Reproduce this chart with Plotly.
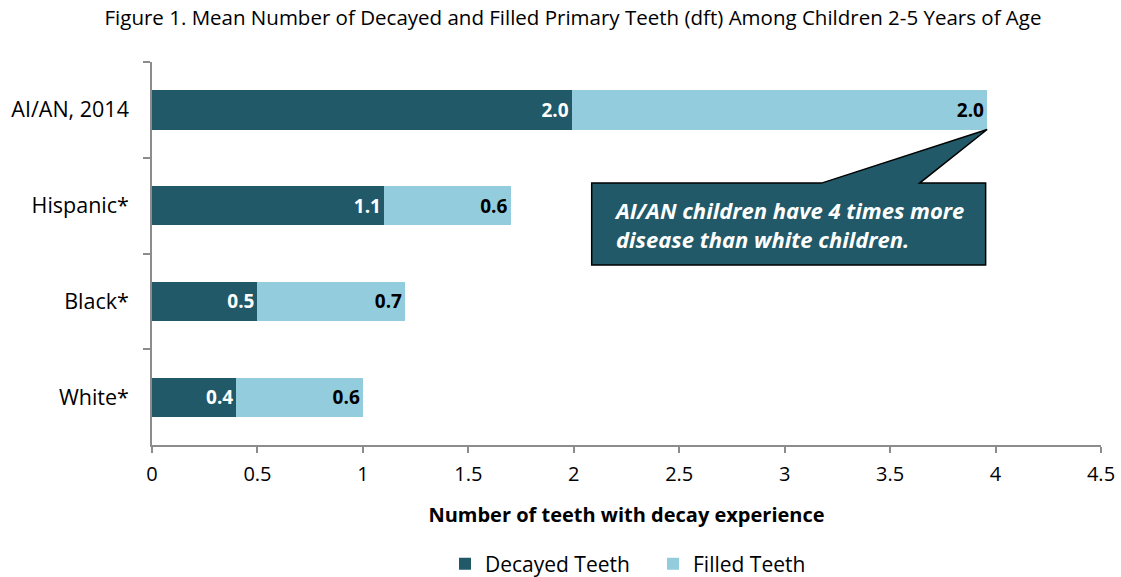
import plotly.graph_objects as go

# Mean dft among children 2-5 years of age
groups = ["AI/AN, 2014", "Hispanic*", "Black*", "White*"]
decayed = [1.99, 1.10, 0.50, 0.40]
filled = [1.97, 0.60, 0.70, 0.60]

x_ticks = [0, 0.5, 1, 1.5, 2, 2.5, 3, 3.5, 4, 4.5]

DARK = "#215968"
LIGHT = "#93CDDD"
AXIS = "#8C8C8C"
FONT = "Open Sans"
BAR_W = 0.41

fig = go.Figure()
fig.add_trace(go.Bar(
    y=groups, x=decayed, orientation="h", name="Decayed Teeth", legend="legend",
    marker=dict(color=DARK, line=dict(width=0)), width=BAR_W,
    texttemplate="<b>%{x:.1f}</b>", textposition="inside", insidetextanchor="end",
    textfont=dict(family=FONT, size=19, color="white"),
))
fig.add_trace(go.Bar(
    y=groups, x=filled, orientation="h", name="Filled Teeth", legend="legend2",
    marker=dict(color=LIGHT, line=dict(width=0)), width=BAR_W,
    texttemplate="<b>%{x:.1f}</b>", textposition="inside", insidetextanchor="end",
    textfont=dict(family=FONT, size=19, color="black"),
))

# Callout pointing at the end of the AI/AN bar
tip_x = decayed[0] + filled[0]
tip_y = BAR_W / 2
box_x0, box_x1 = 2.085, 3.953
box_y0, box_y1 = 0.765, 1.62
base_a, base_b = 3.175, 3.64
path = (f"M {box_x0} {box_y0} L {base_a} {box_y0} L {tip_x} {tip_y} "
        f"L {base_b} {box_y0} L {box_x1} {box_y0} L {box_x1} {box_y1} "
        f"L {box_x0} {box_y1} Z")
fig.add_shape(type="path", path=path, xref="x", yref="y",
              fillcolor=DARK, line=dict(color="black", width=1.5), layer="above")
fig.add_annotation(
    x=box_x0 + 0.095, y=(box_y0 + box_y1) / 2, xref="x", yref="y",
    xanchor="left", yanchor="middle", align="left", showarrow=False,
    text="<b><i>AI/AN children have 4 times more<br>disease than white children.</i></b>",
    font=dict(family=FONT, size=22, color="white"),
)

legend_style = dict(orientation="h", xanchor="left", xref="container",
                    y=1 - 564 / 577, yanchor="middle", yref="container",
                    font=dict(family=FONT, size=21), itemwidth=30)

fig.update_layout(
    width=1121, height=577,
    barmode="stack",
    plot_bgcolor="white", paper_bgcolor="white",
    margin=dict(l=152, r=20, t=62, b=132, autoexpand=False),
    font=dict(family=FONT, size=20, color="black"),
    title=dict(text="Figure 1. Mean Number of Decayed and Filled Primary Teeth (dft) Among Children 2-5 Years of Age",
               x=573 / 1121, xanchor="center", y=1 - 18 / 577, yanchor="middle",
               font=dict(family=FONT, size=20.5, color="black")),
    showlegend=True,
    legend=dict(x=445 / 1121, **legend_style),
    legend2=dict(x=653 / 1121, **legend_style),
    xaxis=dict(range=[0, 4.5], tickvals=x_ticks, ticktext=[f"{v:g}" for v in x_ticks],
               showgrid=False, zeroline=False, showline=True, linecolor=AXIS, linewidth=1.5,
               ticks="outside", ticklen=6, tickcolor=AXIS, tickwidth=1.5,
               tickfont=dict(family=FONT, size=20), automargin=False, ticklabelstandoff=4,
               title=dict(text="<b>Number of teeth with decay experience</b>", standoff=22,
                          font=dict(family=FONT, size=20))),
    yaxis=dict(categoryorder="array", categoryarray=groups, autorange="reversed",
               showgrid=False, zeroline=False, showline=True, linecolor=AXIS, linewidth=1.5,
               ticks="outside", ticklen=7, tickcolor=AXIS, tickwidth=1.5, tickson="boundaries",
               tickfont=dict(family=FONT, size=21.5), ticklabelstandoff=17, automargin=False),
    bargap=0.59,
)

fig.write_html("out.html")
